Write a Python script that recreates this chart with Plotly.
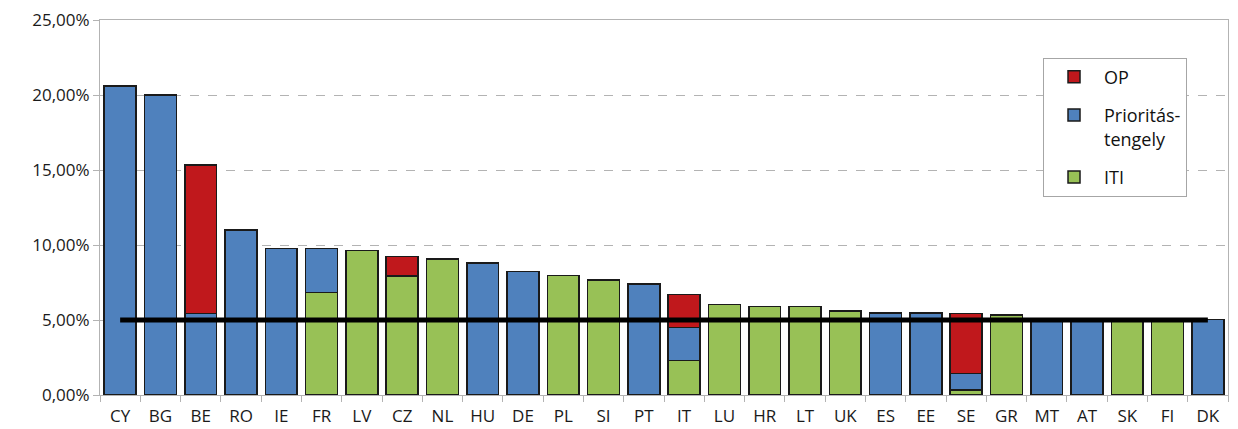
import plotly.graph_objects as go

categories = ["CY", "BG", "BE", "RO", "IE", "FR", "LV", "CZ", "NL", "HU", "DE", "PL", "SI", "PT",
              "IT", "LU", "HR", "LT", "UK", "ES", "EE", "SE", "GR", "MT", "AT", "SK", "FI", "DK"]
iti = [None, None, None, None, None, 6.85, 9.62, 7.93, 9.07, None, None, 7.98, 7.67, None,
       2.29, 6.02, 5.89, 5.89, 5.6, None, None, 0.33, 5.35, None, None, 5.0, 5.0, None]
prioritas = [20.6, 20.0, 5.45, 11.0, 9.78, 2.93, None, None, None, 8.8, 8.24, None, None, 7.4,
             2.2, None, None, None, None, 5.47, 5.47, 1.11, None, 5.0, 5.0, None, None, 5.04]
op = [None, None, 9.88, None, None, None, None, 1.29, None, None, None, None, None, None,
      2.22, None, None, None, None, None, None, 4.0, None, None, None, None, None, None]
threshold = [5.0] * len(categories)
y_ticks = [0, 5, 10, 15, 20, 25]
y_ticktext = [f"{v:.2f}".replace(".", ",") + "%" for v in y_ticks]

FONT = "Open Sans"
outline = dict(color="#1a1a1a", width=1.5)

fig = go.Figure()
fig.add_trace(go.Bar(x=categories, y=iti, name="ITI", marker=dict(color="#98C156", line=outline),
                     legendgroup="c", legendrank=3))
fig.add_trace(go.Bar(x=categories, y=prioritas, name="Prioritás-<br>tengely",
                     marker=dict(color="#4F81BD", line=outline), legendgroup="b", legendrank=2))
fig.add_trace(go.Bar(x=categories, y=op, name="OP", marker=dict(color="#C0181C", line=outline),
                     legendgroup="a", legendrank=1))
fig.add_trace(go.Scatter(x=categories, y=threshold, mode="lines", line=dict(color="black", width=5),
                         showlegend=False, hoverinfo="skip"))

fig.update_layout(
    width=1238, height=429,
    margin=dict(l=92, r=18, t=12, b=42),
    barmode="stack", bargap=0.21,
    paper_bgcolor="white", plot_bgcolor="white",
    font=dict(family=FONT, size=17, color="#1a1a1a"),
    legend=dict(x=0.836, y=0.9, xanchor="left", yanchor="top",
                traceorder="grouped", tracegroupgap=12, valign="top",
                bordercolor="#a6a6a6", borderwidth=1, bgcolor="white",
                font=dict(family=FONT, size=18, color="#111111"),
                itemwidth=50),
    xaxis=dict(showline=True, linecolor="#b3b3b3", linewidth=1, mirror=True,
               ticks="outside", tickson="boundaries", ticklen=6, tickcolor="#b3b3b3",
               showgrid=False, tickfont=dict(size=17), automargin=False,
               ticklabeloverflow="allow", ticklabelstandoff=6),
    yaxis=dict(range=[0, 25], tickvals=y_ticks, ticktext=y_ticktext,
               showline=True, linecolor="#b3b3b3", linewidth=1, mirror=True,
               ticks="outside", ticklen=6, tickcolor="#b3b3b3",
               showgrid=True, gridcolor="#b3b3b3", griddash="dash", gridwidth=1,
               zeroline=False, tickfont=dict(size=17), automargin=False,
               ticklabeloverflow="allow"),
)

fig.write_html("out.html")
